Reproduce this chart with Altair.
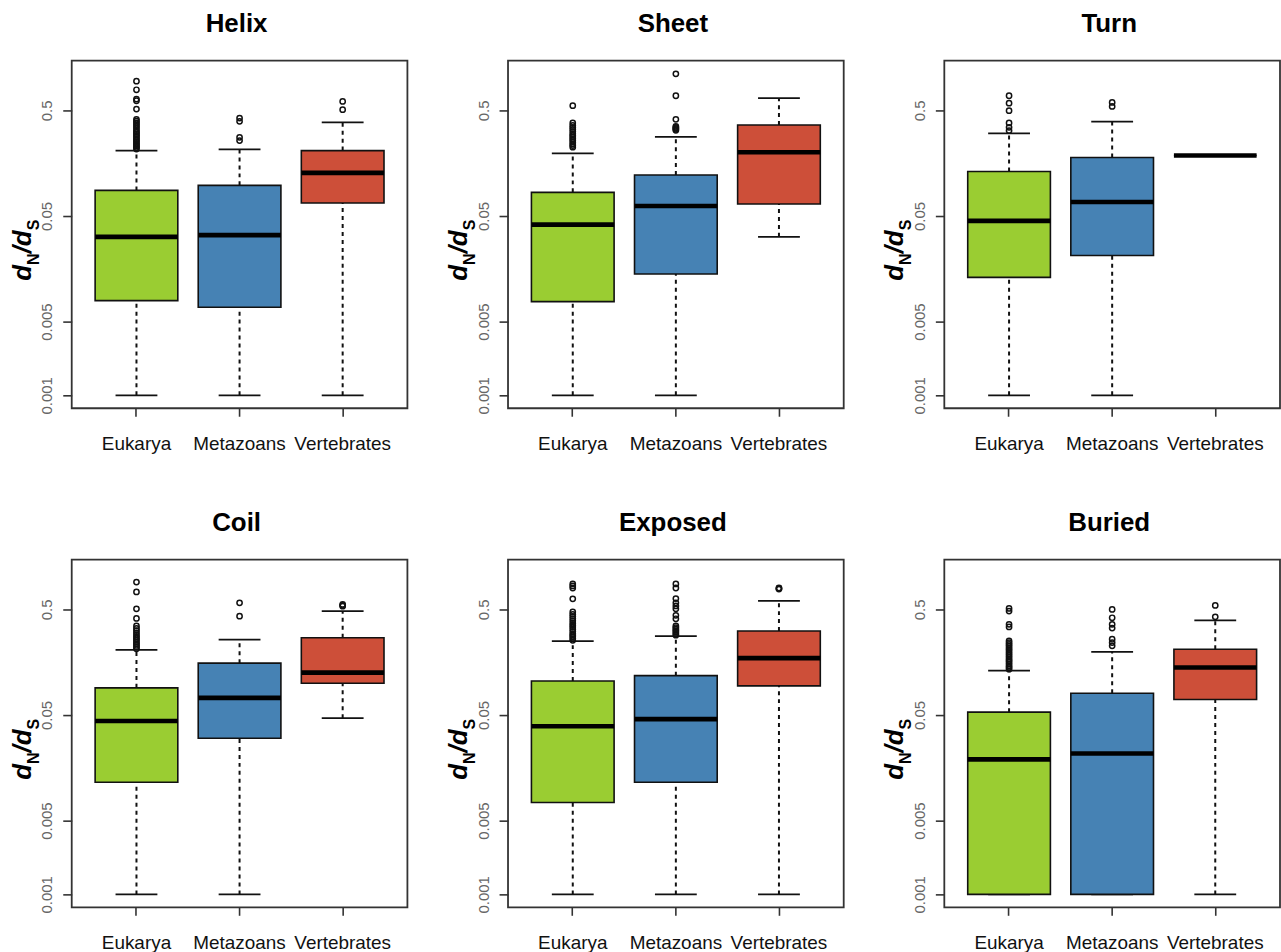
import altair as alt
import pandas as pd

PANELS = ["Helix", "Sheet", "Turn", "Coil", "Exposed", "Buried"]
CATS = ["Eukarya", "Metazoans", "Vertebrates"]
COLORS = ["#9ACD32", "#4682B4", "#CD4F39"]
TICK_VALUES = [0.001, 0.005, 0.05, 0.5]

# per panel: [Eukarya, Metazoans, Vertebrates]
WHISKER_LO = [
    [0.001, 0.001, 0.001],
    [0.001, 0.001, 0.0317],
    [0.001, 0.001, 0.187],
    [0.001, 0.001, 0.0467],
    [0.001, 0.001, 0.001],
    [0.001, 0.001, 0.001],
]
Q1 = [
    [0.00789, 0.00682, 0.0663],
    [0.00772, 0.0141, 0.0649],
    [0.0131, 0.0211, 0.187],
    [0.01153, 0.0301, 0.0998],
    [0.00742, 0.01153, 0.0944],
    [0.001, 0.001, 0.0701],
]
MEDIAN = [
    [0.0317, 0.0329, 0.128],
    [0.0414, 0.0621, 0.201],
    [0.0449, 0.0678, 0.187],
    [0.0438, 0.0727, 0.126],
    [0.0391, 0.0457, 0.173],
    [0.0190, 0.0216, 0.141],
]
Q3 = [
    [0.0873, 0.0975, 0.208],
    [0.0837, 0.122, 0.363],
    [0.132, 0.179, 0.187],
    [0.0904, 0.155, 0.270],
    [0.105, 0.118, 0.312],
    [0.0532, 0.0804, 0.210],
]
WHISKER_HI = [
    [0.208, 0.214, 0.385],
    [0.196, 0.280, 0.653],
    [0.303, 0.391, 0.187],
    [0.207, 0.259, 0.482],
    [0.250, 0.279, 0.603],
    [0.1315, 0.198, 0.394],
]

OUT_HELIX = [
    [0.215, 0.222, 0.229, 0.236, 0.244, 0.252, 0.26, 0.27, 0.28, 0.29, 0.30, 0.31,
     0.32, 0.335, 0.35, 0.365, 0.38, 0.395, 0.411, 0.514, 0.617, 0.64, 0.784, 0.945],
    [0.259, 0.278, 0.394, 0.423],
    [0.508, 0.608],
]
OUT_SHEET = [
    [0.224, 0.232, 0.24, 0.25, 0.26, 0.27, 0.28, 0.29, 0.30, 0.315, 0.33, 0.345,
     0.36, 0.38, 0.554],
    [0.324, 0.331, 0.338, 0.345, 0.353, 0.411, 0.688, 1.11],
    [],
]
OUT_TURN = [
    [0.322, 0.346, 0.380, 0.497, 0.585, 0.688],
    [0.545, 0.595],
    [],
]
OUT_COIL = [
    [0.212, 0.22, 0.228, 0.236, 0.245, 0.255, 0.265, 0.275, 0.287, 0.30, 0.315,
     0.33, 0.349, 0.411, 0.507, 0.732, 0.909],
    [0.432, 0.577],
    [0.537, 0.547, 0.557],
]
OUT_EXPOSED = [
    [0.255, 0.265, 0.275, 0.285, 0.295, 0.31, 0.325, 0.34, 0.355, 0.37, 0.39, 0.41,
     0.43, 0.45, 0.474, 0.63, 0.798, 0.835, 0.871],
    [0.285, 0.295, 0.305, 0.315, 0.325, 0.337, 0.349, 0.408, 0.44, 0.507, 0.54,
     0.577, 0.634, 0.798, 0.871],
    [0.78, 0.79, 0.798],
]
OUT_BURIED = [
    [0.136, 0.141, 0.146, 0.152, 0.158, 0.164, 0.17, 0.177, 0.184, 0.191, 0.199,
     0.207, 0.215, 0.224, 0.233, 0.242, 0.252, 0.341, 0.361, 0.482, 0.511],
    [0.226, 0.243, 0.261, 0.333, 0.361, 0.417, 0.5],
    [0.426, 0.545],
]
OUTLIERS = [OUT_HELIX, OUT_SHEET, OUT_TURN, OUT_COIL, OUT_EXPOSED, OUT_BURIED]

stats_rows = []
out_rows = []
for pi, p in enumerate(PANELS):
    for ci, c in enumerate(CATS):
        stats_rows.append(dict(panel=p, cat=c, lo=WHISKER_LO[pi][ci], q1=Q1[pi][ci],
                               med=MEDIAN[pi][ci], q3=Q3[pi][ci], hi=WHISKER_HI[pi][ci]))
        for v in OUTLIERS[pi][ci]:
            out_rows.append(dict(panel=p, cat=c, v=v))
stats = pd.DataFrame(stats_rows)
outl = pd.DataFrame(out_rows)
one = pd.DataFrame({"k": [0]})

FONT = "Liberation Sans"
W, H = 337, 349
xsc = alt.Scale(domain=CATS, paddingInner=0, paddingOuter=0.128)
ysc = alt.Scale(type="log", domain=[0.000754, 1.48], nice=False)
xax = alt.Axis(title=None, domain=False, grid=False, tickSize=8, tickColor="#333",
               tickWidth=1.6, labelFontSize=19, labelFont=FONT, labelColor="#111",
               labelPadding=18, labelAngle=0)
yax = alt.Axis(title=None, domain=False, grid=False, values=TICK_VALUES, format="~g",
               tickSize=9, tickColor="#333", tickWidth=1.6, labelFontSize=15,
               labelFont=FONT, labelColor="#666", labelAngle=270, labelAlign="center",
               labelBaseline="alphabetic", labelPadding=11)


def panel(name):
    s = alt.Chart(stats).transform_filter(alt.datum.panel == name)
    X = alt.X("cat:N", scale=xsc, axis=xax, sort=CATS)
    dash = dict(strokeDash=[4, 4], strokeWidth=2, color="#111")
    w_lo = s.mark_rule(**dash).encode(x=X, y=alt.Y("lo:Q", scale=ysc, axis=yax), y2="q1:Q")
    w_hi = s.mark_rule(**dash).encode(x=X, y=alt.Y("q3:Q", scale=ysc, axis=yax), y2="hi:Q")
    c_lo = s.mark_tick(size=42, thickness=1.7, color="#111", opacity=1).encode(
        x=X, y=alt.Y("lo:Q", scale=ysc, axis=yax))
    c_hi = s.mark_tick(size=42, thickness=1.7, color="#111", opacity=1).encode(
        x=X, y=alt.Y("hi:Q", scale=ysc, axis=yax))
    box = s.mark_bar(width=83, stroke="#111", strokeWidth=1.6, opacity=1).encode(
        x=X, y=alt.Y("q1:Q", scale=ysc, axis=yax), y2="q3:Q",
        color=alt.Color("cat:N", scale=alt.Scale(domain=CATS, range=COLORS), legend=None))
    med = s.mark_tick(size=83, thickness=4.6, color="black", opacity=1).encode(
        x=X, y=alt.Y("med:Q", scale=ysc, axis=yax))
    pts = alt.Chart(outl).transform_filter(alt.datum.panel == name).mark_point(
        shape="circle", filled=False, size=28, strokeWidth=1.5, color="#111",
        opacity=1).encode(x=X, y=alt.Y("v:Q", scale=ysc, axis=yax))
    x0, y0 = -41, 221
    common = dict(angle=270, align="left", baseline="alphabetic", font=FONT,
                  fontWeight="bold", color="black")
    t1 = alt.Chart(one).mark_text(text="d", fontSize=26, fontStyle="italic", **common).encode(
        x=alt.value(x0), y=alt.value(y0))
    t2 = alt.Chart(one).mark_text(text="N", fontSize=16, dx=15.9, dy=8, **common).encode(
        x=alt.value(x0), y=alt.value(y0))
    t3 = alt.Chart(one).mark_text(text="/d", fontSize=26, fontStyle="italic", dx=27.5,
                                  **common).encode(x=alt.value(x0), y=alt.value(y0))
    t4 = alt.Chart(one).mark_text(text="S", fontSize=16, dx=50.6, dy=8, **common).encode(
        x=alt.value(x0), y=alt.value(y0))
    return alt.layer(w_lo, w_hi, c_lo, c_hi, box, med, pts, t1, t2, t3, t4).properties(
        width=W, height=H,
        title=alt.TitleParams(text=name, fontSize=26, font=FONT, fontWeight="bold",
                              color="black", offset=3, baseline="alphabetic",
                              anchor="middle", dx=-3))


chart = alt.concat(*[panel(p) for p in PANELS], columns=3,
                   spacing={"row": 152, "column": 101}, bounds="flush").configure_view(
    stroke="#333", strokeWidth=1.8).properties(
    padding={"left": 9, "top": 8, "right": 0, "bottom": 0}, background="white")

chart.save("out.html", embed_options={"renderer": "svg", "actions": False})
